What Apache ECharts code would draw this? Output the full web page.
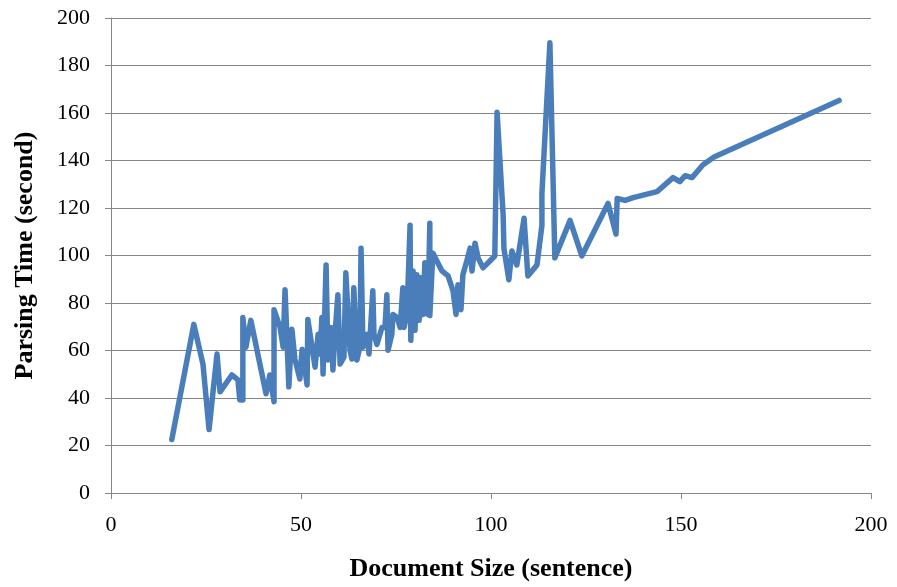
<!DOCTYPE html>
<html>
<head>
<meta charset="utf-8">
<script src="https://cdn.jsdelivr.net/npm/echarts@6/dist/echarts.min.js"></script>
<style>
html,body{margin:0;padding:0;background:#fff;}
#chart{width:897px;height:587px;}
</style>
</head>
<body>
<div id="chart"></div>
<script>
// Document size (sentences)
const docSize = [16.0,21.8,24.2,25.8,27.9,28.7,31.8,33.4,33.9,34.7,34.7,35.5,36.8,40.8,41.8,42.9,42.9,44.5,45.3,45.8,46.8,47.6,48.4,49.7,50.3,51.6,51.8,52.9,53.7,54.5,55.0,55.5,55.8,56.6,57.1,57.9,58.4,58.9,59.7,60.3,61.3,61.8,62.9,63.4,63.9,64.7,65.5,65.8,66.3,67.4,67.9,68.9,69.2,70.0,71.3,72.1,72.6,72.9,73.9,74.2,75.3,76.1,76.8,77.1,77.9,78.7,78.9,79.5,80.0,80.5,81.1,81.6,82.1,82.6,83.2,83.4,83.9,83.9,84.7,87.1,88.7,90.0,90.8,91.3,92.1,92.6,93.7,94.5,95.0,95.8,96.6,97.9,99.7,101.0,101.6,103.2,103.4,104.7,105.5,106.8,108.7,109.7,112.1,113.4,113.4,115.5,116.8,120.8,123.9,130.8,132.9,133.2,135.3,137.4,143.7,147.9,149.7,151.1,152.9,155.8,158.7,191.6];
// Parsing time (seconds)
const parseTime = [22.5,71.0,54.3,26.7,58.5,42.6,49.7,47.6,39.2,39.2,73.9,61.4,72.7,41.8,49.7,38.4,77.2,69.7,61.4,85.6,44.7,68.9,56.4,48.0,60.5,45.5,73.1,61.4,53.0,66.8,58.5,73.9,50.1,96.0,56.0,69.7,51.8,65.6,83.5,54.3,57.2,92.7,60.1,56.4,86.4,56.0,61.4,103.1,61.4,66.8,58.5,85.2,66.8,62.6,69.7,69.7,83.5,60.1,66.8,75.2,73.9,69.7,86.4,69.7,75.2,112.7,64.3,93.5,68.5,91.9,72.7,90.6,75.2,96.9,94.8,75.2,113.6,74.7,101.0,93.5,91.4,85.2,75.2,87.7,77.2,91.9,98.1,103.1,93.5,105.2,99.0,94.8,97.7,99.8,160.3,116.9,103.0,89.8,101.9,96.0,115.7,91.4,96.0,112.7,126.1,189.6,99.0,114.8,99.8,121.9,109.0,124.0,123.2,124.4,126.9,132.8,131.1,133.6,132.8,138.2,141.5,165.3];
const xTicks = [0,50,100,150,200];
const yTicks = [0,20,40,60,80,100,120,140,160,180,200];

const data = docSize.map((x,i)=>[x,parseTime[i]]);
const font = '"Liberation Serif", "Times New Roman", serif';
const grey = '#868686';

const chart = echarts.init(document.getElementById('chart'));
chart.setOption({
  animation:false,
  backgroundColor:'#ffffff',
  grid:{left:111,right:26,top:18,bottom:90,containLabel:false},
  xAxis:{
    type:'value',min:xTicks[0],max:xTicks[xTicks.length-1],interval:50,
    name:'Document Size (sentence)',nameLocation:'middle',nameGap:63,
    nameTextStyle:{fontFamily:font,fontSize:26,fontWeight:'bold',color:'#000'},
    axisLine:{show:true,lineStyle:{color:grey,width:1}},
    axisTick:{show:true,length:6,inside:false,lineStyle:{color:grey}},
    axisLabel:{fontFamily:font,fontSize:22,color:'#000',margin:21},
    splitLine:{show:false}
  },
  yAxis:{
    type:'value',min:yTicks[0],max:yTicks[yTicks.length-1],interval:20,
    name:'Parsing Time (second)',nameLocation:'middle',nameGap:73,
    nameTextStyle:{fontFamily:font,fontSize:26,fontWeight:'bold',color:'#000'},
    axisLine:{show:true,lineStyle:{color:grey,width:1}},
    axisTick:{show:true,length:6,inside:false,lineStyle:{color:grey}},
    axisLabel:{fontFamily:font,fontSize:22,color:'#000',margin:21},
    splitLine:{show:true,lineStyle:{color:grey,width:1}}
  },
  series:[{
    type:'line',data:data,showSymbol:false,symbol:'none',
    lineStyle:{color:'#4A7EBB',width:5.5,join:'round',cap:'round'},
    itemStyle:{color:'#4A7EBB'}
  }]
});
</script>
</body>
</html>
